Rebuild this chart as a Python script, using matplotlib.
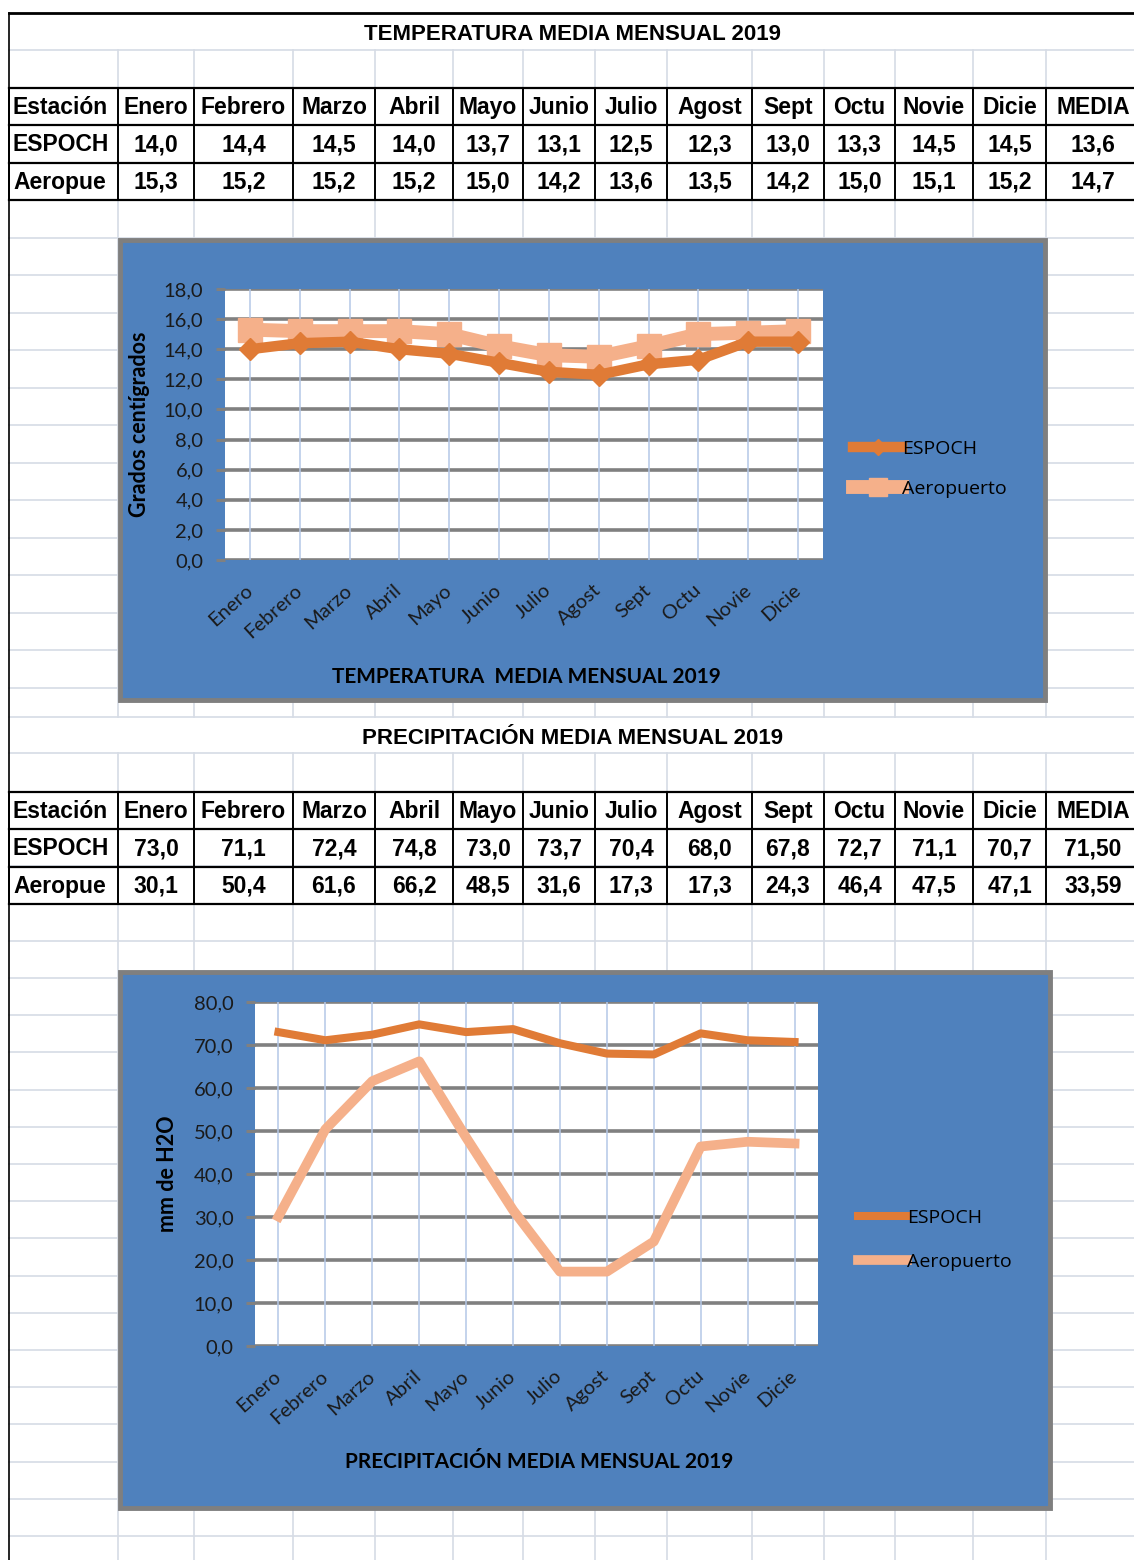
import numpy as np
import matplotlib
matplotlib.use("Agg")
import matplotlib.pyplot as plt
from matplotlib.patches import Rectangle
from matplotlib.ticker import FuncFormatter

W, H = 1134, 1560

meses = ["Enero", "Febrero", "Marzo", "Abril", "Mayo", "Junio", "Julio",
         "Agost", "Sept", "Octu", "Novie", "Dicie"]
estaciones = ["ESPOCH", "Aeropuerto"]

temp_espoch = [14.0, 14.4, 14.5, 14.0, 13.7, 13.1, 12.5, 12.3, 13.0, 13.3, 14.5, 14.5]
temp_aero = [15.3, 15.2, 15.2, 15.2, 15.0, 14.2, 13.6, 13.5, 14.2, 15.0, 15.1, 15.2]
temp_media = [13.6, 14.7]

prec_espoch = [73.0, 71.1, 72.4, 74.8, 73.0, 73.7, 70.4, 68.0, 67.8, 72.7, 71.1, 70.7]
prec_aero = [30.1, 50.4, 61.6, 66.2, 48.5, 31.6, 17.3, 17.3, 24.3, 46.4, 47.5, 47.1]
prec_media = [71.50, 33.59]

C_ESPOCH = "#E07B36"
C_AERO = "#F5B08A"
C_BLUE = "#4F81BD"
C_SHEET = "#D6DCE5"

TABLE_FONT = ["Liberation Sans", "DejaVu Sans"]
CHART_FONT = ["Lato", "DejaVu Sans"]
LEG_FONT = ["Open Sans", "DejaVu Sans"]

cols = [9, 118, 194, 293, 375, 453, 523, 595, 667, 752, 824, 895, 973, 1046, 1140]


def coma(v, dec=1):
    return f"{v:.{dec}f}".replace(".", ",")


def px_axes(fig, x0, y0, x1, y1):
    return fig.add_axes([x0 / W, 1 - y1 / H, (x1 - x0) / W, (y1 - y0) / H])


fig = plt.figure(figsize=(W / 100, H / 100), dpi=100)
bg = fig.add_axes([0, 0, 1, 1])
bg.set_xlim(0, W)
bg.set_ylim(H, 0)
bg.axis("off")

# hoja de calculo: lineas de fondo
rows = list(np.arange(50, 720, 37.5)) + [717, 753] + list(np.arange(792, 1561, 37.2))
for y in rows:
    bg.plot([9, W], [y, y], color=C_SHEET, lw=1.2, zorder=1)
for x in cols[1:]:
    bg.plot([x, x], [50, 717], color=C_SHEET, lw=1.2, zorder=1)
    bg.plot([x, x], [753, H], color=C_SHEET, lw=1.2, zorder=1)
bg.plot([9, W], [13, 13], color="black", lw=2, zorder=3)
bg.plot([9, 9], [13, H], color="black", lw=1.2, zorder=3)


def tabla(y_title, y0, titulo, serie1, serie2, media, dec_media):
    bg.text(573, y_title, titulo, ha="center", va="center", fontsize=16,
            fontweight="bold", family=TABLE_FONT, zorder=4)
    rh = 37.3
    ys = [y0 + i * rh for i in range(4)]
    for y in ys:
        bg.plot([9, W], [y, y], color="black", lw=1.6, zorder=3)
    for x in cols[:-1]:
        bg.plot([x, x], [ys[0], ys[-1]], color="black", lw=1.4, zorder=3)
    cab = ["Estación"] + meses + ["MEDIA"]
    filas = [cab,
             [estaciones[0]] + [coma(v) for v in serie1] + [coma(media[0], dec_media)],
             [estaciones[1][:7]] + [coma(v) for v in serie2] + [coma(media[1], dec_media)]]
    for r, fila in enumerate(filas):
        yc = ys[r] + rh / 2 + 1
        for c, txt in enumerate(fila):
            if c == 0:
                bg.text(cols[0] + 4, yc, txt, ha="left", va="center", fontsize=16.5,
                        fontweight="bold", family=TABLE_FONT, zorder=4)
            else:
                xc = (cols[c] + cols[c + 1]) / 2
                bg.text(xc, yc, txt, ha="center", va="center", fontsize=16.5,
                        fontweight="bold", family=TABLE_FONT, zorder=4)


tabla(35, 88, "TEMPERATURA MEDIA MENSUAL 2019", temp_espoch, temp_aero, temp_media, 1)
tabla(738, 792, "PRECIPITACIÓN MEDIA MENSUAL 2019", prec_espoch, prec_aero, prec_media, 2)


def grafico(frame, plot, s1, s2, ymax, ystep, ylabel, ylabel_x, titulo, title_y,
            leg_xy, leg_sp, marcadores):
    bg.add_patch(Rectangle((frame[0], frame[1]), frame[2] - frame[0], frame[3] - frame[1],
                           facecolor=C_BLUE, edgecolor="#7F7F7F", lw=3.5, zorder=5))
    ax = px_axes(fig, *plot)
    ax.set_facecolor("white")
    x = np.arange(len(meses))
    for v in x:
        ax.axvline(v, color="#B4C7E7", lw=1.1, zorder=1)
    ax.set_yticks(np.arange(0, ymax + ystep / 2, ystep))
    ax.grid(axis="y", color="#808080", lw=2.6, zorder=1)
    ax.set_axisbelow(True)
    if marcadores:
        ax.plot(x, s2, color=C_AERO, lw=10, marker="s", ms=17, label=estaciones[1],
                solid_joinstyle="miter", zorder=3)
        ax.plot(x, s1, color=C_ESPOCH, lw=7.5, marker="D", ms=11, label=estaciones[0],
                solid_joinstyle="miter", zorder=4)
    else:
        ax.plot(x, s2, color=C_AERO, lw=7, label=estaciones[1], zorder=3)
        ax.plot(x, s1, color=C_ESPOCH, lw=5.8, label=estaciones[0], zorder=4)
    ax.set_xlim(-0.5, len(meses) - 0.5)
    ax.set_ylim(0, ymax)
    for s in ax.spines.values():
        s.set_visible(False)
    ax.yaxis.set_major_formatter(FuncFormatter(lambda v, p: coma(v)))
    ax.tick_params(axis="y", length=6.5, width=2.2, color="#808080", pad=9,
                   labelsize=14.5, labelcolor="#1A1A1A")
    ax.tick_params(axis="x", length=0, pad=20, labelsize=14.5, labelcolor="#1A1A1A")
    for lab in ax.get_yticklabels():
        lab.set_family(CHART_FONT)
    ax.set_xticks(x)
    ax.set_xticklabels(meses, rotation=42, ha="right", va="center",
                       rotation_mode="anchor", family=CHART_FONT)
    for lab in ax.get_xticklabels():
        lab.set_x(lab.get_position()[0] + 0.08)
    h, l = ax.get_legend_handles_labels()
    ax.legend(h[::-1], l[::-1], loc="center left", bbox_to_anchor=leg_xy,
              bbox_transform=fig.transFigure, frameon=False, borderpad=0,
              handlelength=2.55, handletextpad=0.0, labelspacing=leg_sp,
              markerscale=0.75, prop={"family": LEG_FONT, "size": 14})
    fig.text(ylabel_x / W, 1 - (plot[1] + plot[3]) / 2 / H, ylabel, rotation=90,
             ha="center", va="center", fontsize=15.5, fontweight="bold",
             family=CHART_FONT)
    fig.text((plot[0] + plot[2]) / 2 / W + 0.002, 1 - title_y / H, titulo, ha="center",
             va="center", fontsize=15, fontweight="bold", family=CHART_FONT)
    return ax


grafico((120, 240, 1045, 700), (225, 289, 823, 560), temp_espoch, temp_aero, 18, 2,
        "Grados centígrados", 140, "TEMPERATURA  MEDIA MENSUAL 2019", 677,
        (843 / W, 1 - 469 / H), 1.15, True)
grafico((120, 972, 1050, 1508), (255, 1002, 818, 1346), prec_espoch, prec_aero, 80, 10,
        "mm de H2O", 168, "PRECIPITACIÓN MEDIA MENSUAL 2019", 1462,
        (848 / W, 1 - 1240 / H), 1.35, False)

fig.savefig("out.png", dpi=100)
